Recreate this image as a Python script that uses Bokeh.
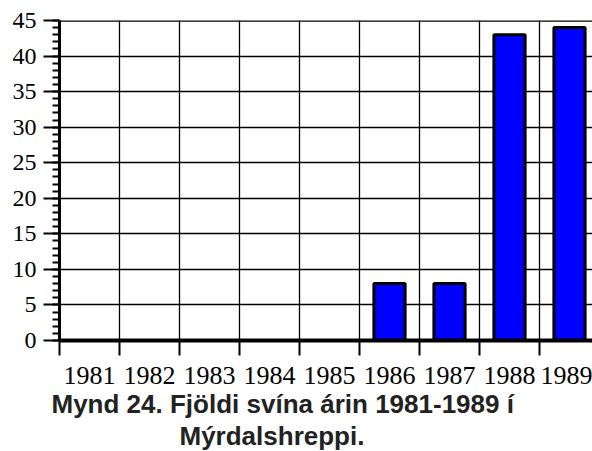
from bokeh.plotting import figure
from bokeh.models import Range1d, FixedTicker, Span, Title, ColumnDataSource
from bokeh.embed import file_html
from bokeh.resources import INLINE

years = [1981, 1982, 1983, 1984, 1985, 1986, 1987, 1988, 1989]
pigs = [0, 0, 0, 0, 0, 8, 8, 43, 44]
y_major = [0, 5, 10, 15, 20, 25, 30, 35, 40, 45]
y_minor = list(range(0, 46))
boundaries = [y - 0.5 for y in years] + [years[-1] + 0.5]
caption1 = "Mynd 24. Fjöldi svína árin 1981-1989 í"
caption2 = "Mýrdalshreppi."

frame_w = 533
cat_px = 60
x_start = years[0] - 0.5
x_end = x_start + frame_w / cat_px

p = figure(width=592, height=451, output_backend="svg", toolbar_location=None,
           x_range=Range1d(x_start, x_end), y_range=Range1d(0, 45),
           min_border_left=59, min_border_right=0, min_border_top=20,
           min_border_bottom=111)
p.outline_line_color = None
p.background_fill_color = "white"
p.border_fill_color = "white"

src = ColumnDataSource(dict(x=years, top=pigs))
p.vbar(x="x", top="top", width=0.52, bottom=0, source=src,
       fill_color="#0000ff", line_color="black", line_width=3)

# grids
p.xgrid.ticker = FixedTicker(ticks=boundaries)
p.ygrid.ticker = FixedTicker(ticks=y_major)
for g in (p.xgrid, p.ygrid):
    g.grid_line_color = "black"
    g.grid_line_width = 1.3
    g.level = "underlay"

p.add_layout(Span(location=45, dimension="width", line_color="black", line_width=2.5))

# x axis
xa = p.xaxis[0]
xa.ticker = FixedTicker(ticks=years, minor_ticks=boundaries)
xa.major_tick_out = 0
xa.major_tick_in = 0
xa.minor_tick_out = 15
xa.minor_tick_in = 0
xa.minor_tick_line_width = 2
xa.minor_tick_line_color = "black"
xa.axis_line_width = 4
xa.axis_line_color = "black"
xa.major_label_text_font = "Liberation Serif"
xa.major_label_text_font_size = "26px"
xa.major_label_text_color = "black"
xa.major_label_standoff = 11

# y axis
ya = p.yaxis[0]
ya.ticker = FixedTicker(ticks=y_major, minor_ticks=y_minor)
ya.major_tick_out = 16
ya.major_tick_in = 0
ya.minor_tick_out = 7
ya.minor_tick_in = 0
ya.major_tick_line_width = 2
ya.minor_tick_line_width = 2
ya.major_tick_line_color = "black"
ya.minor_tick_line_color = "black"
ya.axis_line_width = 3
ya.axis_line_color = "black"
ya.major_label_text_font = "Liberation Serif"
ya.major_label_text_font_size = "24px"
ya.major_label_text_color = "black"
ya.major_label_standoff = 7

for txt, off in ((caption1, -8), (caption2, 120)):
    p.add_layout(Title(text=txt, align="left", offset=off, standoff=0,
                       text_font="Liberation Sans", text_font_style="bold",
                       text_font_size="26px", text_color="#222222"), "below")

open("out.html", "w").write(file_html(p, INLINE))
